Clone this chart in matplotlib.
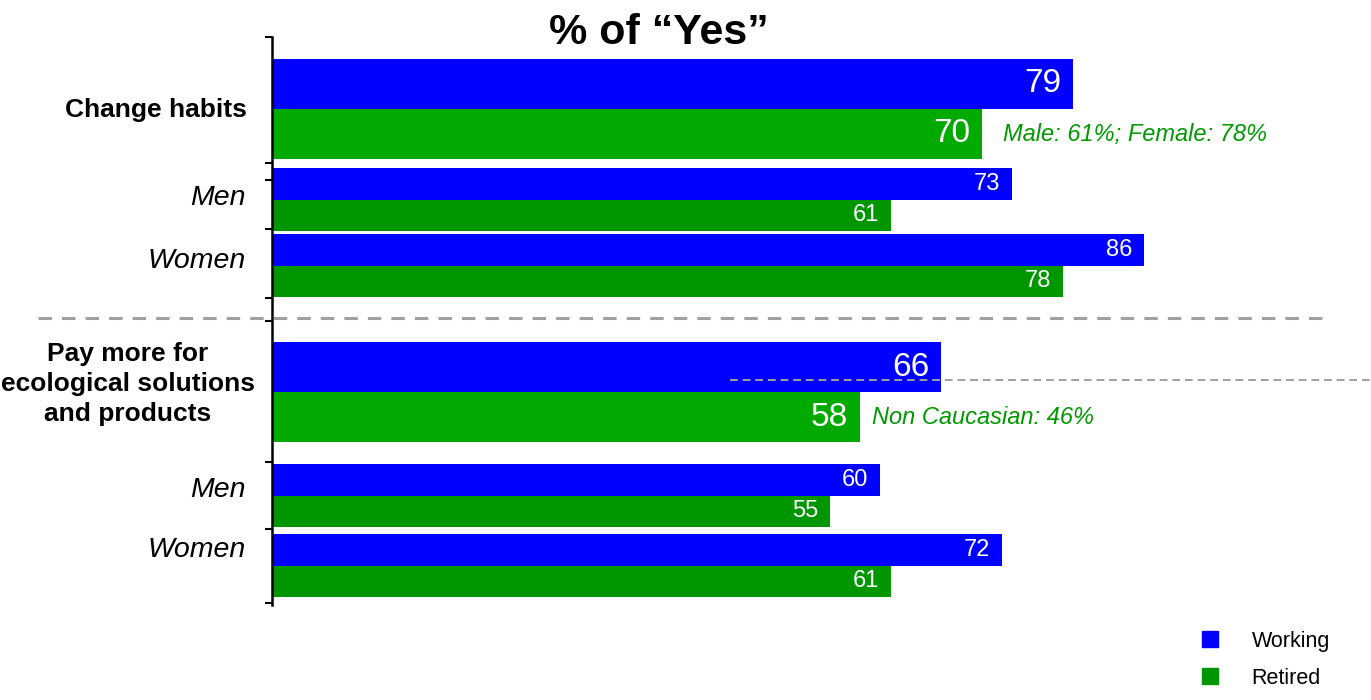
import matplotlib
matplotlib.use("Agg")
import matplotlib.pyplot as plt
from matplotlib.patches import Patch

plt.rcParams["font.family"] = ["Liberation Sans", "DejaVu Sans"]

# data
groups = ["Change habits", "Pay more for\necological solutions\nand products"]
subgroups = ["Men", "Women"]
working_total = [79, 66]
retired_total = [70, 58]
working_men = [73, 60]
retired_men = [61, 55]
working_women = [86, 72]
retired_women = [78, 61]
notes = ["Male: 61%; Female: 78%", "Non Caucasian: 46%"]
series_names = ["Working", "Retired"]

BLUE = "#0000ff"
GREEN_MAIN = "#00aa00"
GREEN_SUB = "#009600"
NOTE_GREEN = "#009900"

W, H = 1371, 700
X0 = 272          # pixel where value 0 sits
SCALE = 10.14     # pixels per percentage point

fig = plt.figure(figsize=(W / 100, H / 100), dpi=100)
ax = fig.add_axes([0, 0, 1, 1])
ax.set_xlim(-X0 / SCALE, (W - X0) / SCALE)
ax.set_ylim(H, 0)

# layout: top of each block (total, men, women) per group, row heights
block_top = [[59, 168, 234], [342, 464, 534]]
main_h = 50
sub_h = 31.5
note_gap = [21, 12]


def value_label(v, y, size):
    ax.annotate(str(v), (v, y), xytext=(-8.5, 0), textcoords="offset points",
                ha="right", va="center", color="white", fontsize=size)


for g in range(len(groups)):
    t, m, w = block_top[g]
    ax.barh(t, working_total[g], height=main_h, align="edge", color=BLUE)
    ax.barh(t + main_h, retired_total[g], height=main_h, align="edge", color=GREEN_MAIN)
    value_label(working_total[g], t + main_h / 2, 24)
    value_label(retired_total[g], t + 1.5 * main_h, 24)
    ax.annotate(notes[g], (retired_total[g], t + 1.5 * main_h), xytext=(note_gap[g] * 0.72, 0),
                textcoords="offset points", ha="left", va="center",
                color=NOTE_GREEN, fontsize=17, style="italic")

    for top, wv, rv in [(m, working_men[g], retired_men[g]),
                        (w, working_women[g], retired_women[g])]:
        ax.barh(top, wv, height=sub_h, align="edge", color=BLUE)
        ax.barh(top + sub_h, rv, height=sub_h, align="edge", color=GREEN_SUB)
        value_label(wv, top + sub_h / 2, 17)
        value_label(rv, top + 1.5 * sub_h, 17)

# category labels
group_label_pos = [(156, 110), (128, 384)]
sub_label_y = [[198, 261], [490, 550]]
for g, name in enumerate(groups):
    x, y = group_label_pos[g]
    fig.text(x / W, 1 - y / H, name, ha="center", va="center", fontsize=19,
             fontweight="bold", multialignment="center", linespacing=1.3)
    for s, sname in enumerate(subgroups):
        fig.text(246 / W, 1 - sub_label_y[g][s] / H, sname, ha="right", va="center",
                 fontsize=20.5, style="italic")

# separators
ax.axhline(318, xmin=38 / W, xmax=1325 / W, color="#a0a0a0", lw=2.2, dashes=(4.4, 3.3), zorder=5)
ax.axhline(380, xmin=730 / W, xmax=1.0, color="#a0a0a0", lw=1.4, dashes=(4, 2.5), zorder=5)

# axis
for side in ["top", "right", "bottom"]:
    ax.spines[side].set_visible(False)
ax.spines["left"].set_position(("data", 0))
ax.spines["left"].set_bounds(37, 605)
ax.spines["left"].set_linewidth(1.8)
ax.set_xticks([])
ax.set_yticks([37, 163, 180, 229, 298, 321, 462, 529, 603])
ax.tick_params(axis="y", direction="out", length=5, width=1.5, labelleft=False)

fig.text(659 / W, 1 - 33 / H, "% of \u201cYes\u201d", ha="center", va="center",
         fontsize=31, fontweight="bold")

handles = [Patch(color=BLUE), Patch(color=GREEN_SUB)]
fig.legend(handles, series_names, loc="upper left", bbox_to_anchor=(1193 / W, 1 - 622 / H),
           frameon=False, fontsize=15.5, handlelength=0.74, handleheight=0.74,
           handletextpad=1.58, labelspacing=0.75, borderaxespad=0)

fig.savefig("out.png", dpi=100)
